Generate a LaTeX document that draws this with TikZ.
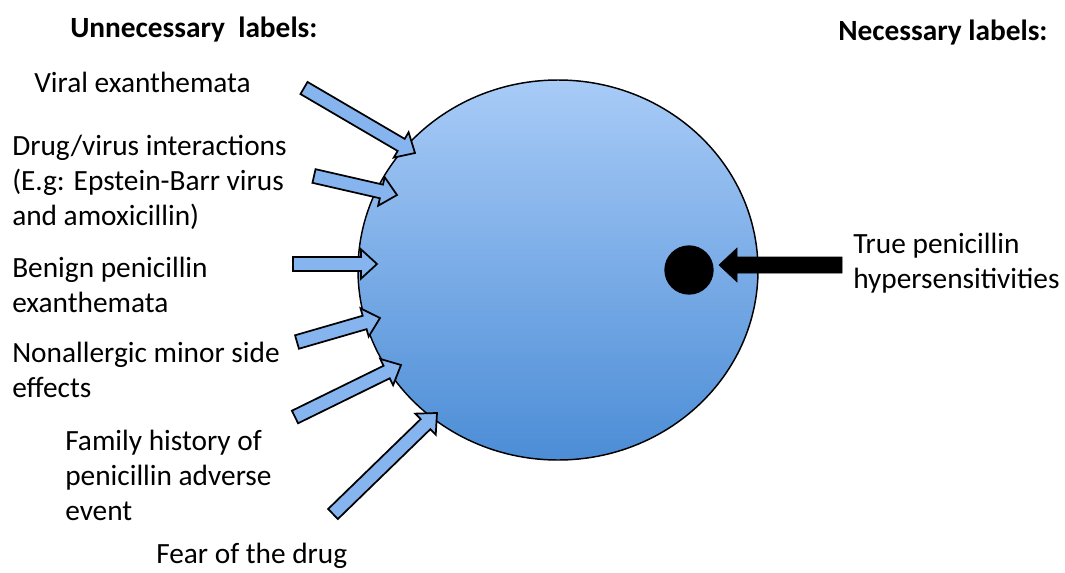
\documentclass[tikz,border=0pt]{standalone}
\usepackage{fontspec}
\setmainfont{Carlito}
\usepackage{xcolor}
\usetikzlibrary{calc,shapes.geometric}
\definecolor{balltop}{HTML}{A8CBF7}
\definecolor{ballbot}{HTML}{4C8DD6}
\definecolor{arrfill}{HTML}{86B4EE}

% block arrow: style, tail, tip, shaft half width, head half width, head length
\newcommand{\blockarrow}[6]{%
  \coordinate (hb) at ($(#3)!#6!(#2)$);
  \draw[#1] ($(#2)!#4!90:(#3)$) -- ($(hb)!#4!90:(#3)$) -- ($(hb)!#5!90:(#3)$)
    -- (#3) -- ($(hb)!#5!-90:(#3)$) -- ($(hb)!#4!-90:(#3)$) -- ($(#2)!#4!-90:(#3)$) -- cycle;
}

\begin{document}
\begin{tikzpicture}[
  x=0.75pt,y=-0.75pt,
  font=\fontsize{22}{26}\selectfont,
  lbl/.style={anchor=base west,align=left,inner sep=0pt},
  title/.style={lbl,font=\fontsize{22}{26}\selectfont\bfseries},
  ball/.style={ellipse,draw=black,line width=1.1pt,top color=balltop,bottom color=ballbot,
               minimum width=300pt,minimum height=285pt,inner sep=0pt},
  dot/.style={circle,fill=black,minimum size=37pt,inner sep=0pt},
  barr/.style={draw=black,line width=1.3pt,fill=arrfill,line join=miter},
  karr/.style={fill=black}
]
\useasboundingbox (0,0) rectangle (1065,572);

\node[ball] (ball) at (558,270) {};
\node[dot]  (core) at (689,270) {};

% titles
\node[title] (unnec) at (70,37)  {Unnecessary\ \ labels:};
\node[title] (nec)   at (838,40) {Necessary labels:};

% labels (placed at the baseline of their last line)
\node[lbl] (viral)  at (34,92)   {Viral exanthemata};
\node[lbl] (drug)   at (12,225)  {Drug/virus interactions\\(E.g: Epstein-Barr virus\\and amoxicillin)};
\node[lbl] (benign) at (12,312)  {Benign penicillin\\exanthemata};
\node[lbl] (minor)  at (12,397)  {Nonallergic minor side\\effects};
\node[lbl] (family) at (65,520)  {Family history of\\penicillin adverse\\event};
\node[lbl] (fear)   at (156,563) {Fear of the drug};
\node[lbl] (truehs) at (853,288) {True penicillin\\hypersensitivities};

% arrow ends
\coordinate (t1) at (304,88);  \coordinate (p1) at (415,153);
\coordinate (t2) at (314,176); \coordinate (p2) at (397,195);
\coordinate (t3) at (293,264); \coordinate (p3) at (377,264);
\coordinate (t4) at (297,342); \coordinate (p4) at (380,318);
\coordinate (t5) at (295,417); \coordinate (p5) at (401,365);
\coordinate (t6) at (333,514); \coordinate (p6) at (437,413);
\coordinate (tk) at (842,265); \coordinate (pk) at (719,265);

\foreach \i in {1,...,6}
  \blockarrow{barr}{t\i}{p\i}{5.25pt}{11pt}{12pt};
\blockarrow{karr}{tk}{pk}{6pt}{12.75pt}{13.5pt}
\end{tikzpicture}
\end{document}
